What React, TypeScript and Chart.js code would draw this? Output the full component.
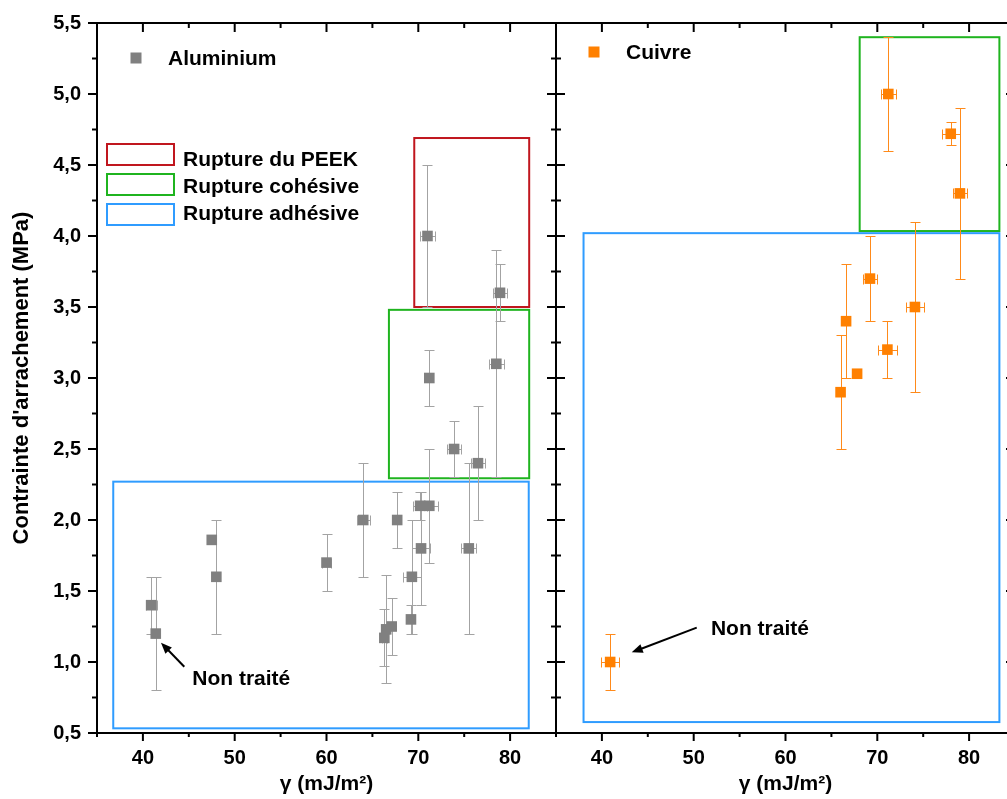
import React, { useEffect, useRef } from 'react';
import { Chart, registerables } from 'chart.js';

Chart.register(...registerables);

// ---------------- DATA ----------------
const seriesNames = ['Aluminium', 'Cuivre'];

// Aluminium (left panel)
const alX = [40.9, 41.4, 47.5, 48.0, 60.0, 64.0, 67.7, 69.2, 69.3, 70.3, 70.2, 71.2, 73.9, 76.5, 75.5, 66.3, 66.5, 67.1, 71.0, 78.9, 78.5, 71.2];
const alY = [1.4, 1.2, 1.86, 1.6, 1.7, 2.0, 2.0, 1.3, 1.6, 1.8, 2.1, 2.1, 2.5, 2.4, 1.8, 1.17, 1.23, 1.25, 4.0, 3.6, 3.1, 3.0];
const alXErr = [0.6, 0, 0, 0, 0.5, 0.7, 0, 0, 1.0, 1.0, 0.8, 1.0, 0.8, 0.8, 0.8, 0.3, 0.3, 0, 0.8, 0.8, 0.8, 0];
const alYErr = [0.2, 0.4, 0, 0.4, 0.2, 0.4, 0.2, 0.1, 0.4, 0.4, 0.1, 0.4, 0.2, 0.4, 0.6, 0.2, 0.38, 0.2, 0.5, 0.2, 0.8, 0.2];

// Cuivre (right panel)
const cuX = [71.2, 78.0, 79.0, 69.2, 74.1, 66.6, 71.1, 67.8, 66.0, 40.9];
const cuY = [5.0, 4.72, 4.3, 3.7, 3.5, 3.4, 3.2, 3.03, 2.9, 1.0];
const cuXErr = [0.8, 1.0, 0.8, 0.8, 1.0, 0, 1.0, 0, 0, 1.0];
const cuYErr = [0.4, 0.08, 0.6, 0.3, 0.6, 0.4, 0.2, 0, 0.4, 0.2];

// Axis ticks
const xTicks = [40, 50, 60, 70, 80];
const xMinor = [35, 45, 55, 65, 75, 85];
const yTicks = [0.5, 1.0, 1.5, 2.0, 2.5, 3.0, 3.5, 4.0, 4.5, 5.0, 5.5];
const yMinor = [0.75, 1.25, 1.75, 2.25, 2.75, 3.25, 3.75, 4.25, 4.75, 5.25];

// Failure zones: [xFrom, xTo, yFrom, yTo, zoneType]
const zoneNames = ['Rupture du PEEK', 'Rupture cohésive', 'Rupture adhésive'];
const alZones = [
  [69.56, 82.08, 3.5, 4.69, 0],
  [66.8, 82.08, 2.294, 3.48, 1],
  [36.77, 82.03, 0.533, 2.27, 2],
];
const cuZones = [
  [68.08, 83.3, 4.035, 5.4, 1],
  [38.0, 83.3, 0.577, 4.02, 2],
];

// "Non traité" notes: [textX, textY, headX, headY, tailX, tailY]
const noteText = 'Non traité';
const alNote = [45.38, 0.838, 41.97, 1.136, 44.51, 0.967];
const cuNote = [51.88, 1.19, 43.25, 1.068, 50.33, 1.242];

const xTitle = 'γ (mJ/m²)';
const yTitle = "Contrainte d'arrachement (MPa)";

// ---------------- STYLE ----------------
const FONT = "'Liberation Sans', Arial, Helvetica, sans-serif";
const alColor = '#808080';
const alErrColor = '#a3a3a3';
const cuColor = '#ff8000';
const cuErrColor = '#ff8a1a';
const zoneColors = ['#c0161e', '#1fb41f', '#2f9cff'];

const panelPlugin = {
  id: 'panelPlugin',
  beforeDatasetsDraw(chart: any) {
    const { ctx, chartArea: ca } = chart;
    const ys = chart.scales.y;
    const sx = [chart.scales.x, chart.scales.x2];
    ctx.save();
    ctx.beginPath();
    ctx.rect(ca.left, ca.top, ca.right - ca.left, ca.bottom - ca.top);
    ctx.clip();

    // zones
    ctx.lineWidth = 2;
    const drawZones = (s: any, zones: number[][]) => {
      for (const z of zones) {
        const [x0, x1, y0, y1, t] = z;
        const l = s.getPixelForValue(x0);
        const r = s.getPixelForValue(x1);
        const tp = ys.getPixelForValue(y1);
        const b = ys.getPixelForValue(y0);
        ctx.strokeStyle = zoneColors[t];
        ctx.strokeRect(l, tp, r - l, b - tp);
      }
    };
    drawZones(sx[0], alZones);
    drawZones(sx[1], cuZones);

    // error bars
    const drawErr = (s: any, X: number[], Y: number[], XE: number[], YE: number[], color: string) => {
      ctx.strokeStyle = color;
      ctx.lineWidth = 1;
      const cap = 5;
      for (let i = 0; i < X.length; i++) {
        const px = Math.round(s.getPixelForValue(X[i])) + 0.5;
        const py = Math.round(ys.getPixelForValue(Y[i])) + 0.5;
        ctx.beginPath();
        if (YE[i] > 0) {
          const t = Math.round(ys.getPixelForValue(Y[i] + YE[i])) + 0.5;
          const b = Math.round(ys.getPixelForValue(Y[i] - YE[i])) + 0.5;
          ctx.moveTo(px, t); ctx.lineTo(px, b);
          ctx.moveTo(px - cap, t); ctx.lineTo(px + cap, t);
          ctx.moveTo(px - cap, b); ctx.lineTo(px + cap, b);
        }
        if (XE[i] > 0) {
          const l = Math.round(s.getPixelForValue(X[i] - XE[i])) + 0.5;
          const r = Math.round(s.getPixelForValue(X[i] + XE[i])) + 0.5;
          ctx.moveTo(l, py); ctx.lineTo(r, py);
          ctx.moveTo(l, py - cap); ctx.lineTo(l, py + cap);
          ctx.moveTo(r, py - cap); ctx.lineTo(r, py + cap);
        }
        ctx.stroke();
      }
    };
    drawErr(sx[0], alX, alY, alXErr, alYErr, alErrColor);
    drawErr(sx[1], cuX, cuY, cuXErr, cuYErr, cuErrColor);
    ctx.restore();
  },
  afterDraw(chart: any) {
    const { ctx, chartArea: ca } = chart;
    const ys = chart.scales.y;
    const sx = [chart.scales.x, chart.scales.x2];
    const mid = chart.scales.x.right;
    ctx.save();
    ctx.strokeStyle = '#000';
    ctx.fillStyle = '#000';
    ctx.lineWidth = 2;
    const seg = (x0: number, y0: number, x1: number, y1: number) => {
      ctx.beginPath(); ctx.moveTo(x0, y0); ctx.lineTo(x1, y1); ctx.stroke();
    };
    // frame
    seg(ca.left - 1, ca.top, ca.right + 1, ca.top);
    seg(ca.left - 1, ca.bottom, ca.right + 1, ca.bottom);
    seg(ca.left, ca.top, ca.left, ca.bottom);
    seg(mid, ca.top, mid, ca.bottom);
    seg(ca.right, ca.top, ca.right, ca.bottom);
    // x ticks
    for (const s of sx) {
      for (const v of xTicks) {
        const p = s.getPixelForValue(v);
        seg(p, ca.top, p, ca.top + 9);
        seg(p, ca.bottom, p, ca.bottom + 8);
      }
      for (const v of xMinor) {
        const p = s.getPixelForValue(v);
        seg(p, ca.top, p, ca.top + 5);
        seg(p, ca.bottom, p, ca.bottom + 4);
      }
    }
    // y ticks
    for (const v of yTicks) {
      const p = ys.getPixelForValue(v);
      seg(ca.left - 9, p, ca.left, p);
      seg(mid - 9, p, mid + 9, p);
      seg(ca.right - 9, p, ca.right, p);
    }
    for (const v of yMinor) {
      const p = ys.getPixelForValue(v);
      seg(ca.left - 5, p, ca.left, p);
      seg(mid - 5, p, mid + 5, p);
      seg(ca.right - 5, p, ca.right, p);
    }

    // series legends
    ctx.font = `bold 21px ${FONT}`;
    ctx.textAlign = 'left';
    ctx.textBaseline = 'alphabetic';
    ctx.fillStyle = alColor;
    ctx.fillRect(ca.left + 39 - 5.5, ca.top + 35 - 5.5, 11, 11);
    ctx.fillStyle = '#000';
    ctx.fillText(seriesNames[0], ca.left + 71, ca.top + 42);
    ctx.fillStyle = cuColor;
    ctx.fillRect(mid + 38 - 5.5, ca.top + 29 - 5.5, 11, 11);
    ctx.fillStyle = '#000';
    ctx.fillText(seriesNames[1], mid + 70, ca.top + 36);

    // zone legend
    const boxTops = [121, 151, 181];
    const textBase = [143, 170, 197];
    for (let i = 0; i < zoneNames.length; i++) {
      ctx.strokeStyle = zoneColors[i];
      ctx.lineWidth = 2;
      ctx.strokeRect(ca.left + 10, ca.top + boxTops[i], 67, 21);
      ctx.fillStyle = '#000';
      ctx.fillText(zoneNames[i], ca.left + 86, ca.top + textBase[i]);
    }

    // notes with arrows
    const note = (s: any, n: number[]) => {
      const [txv, tyv, hxv, hyv, axv, ayv] = n;
      const hx = s.getPixelForValue(hxv), hy = ys.getPixelForValue(hyv);
      const tx = s.getPixelForValue(axv), ty = ys.getPixelForValue(ayv);
      const ang = Math.atan2(hy - ty, hx - tx);
      const L = 11, W = 4.5;
      const c = Math.cos(ang), sn = Math.sin(ang);
      ctx.strokeStyle = '#000';
      ctx.fillStyle = '#000';
      ctx.lineWidth = 2;
      seg(tx, ty, hx - c * L * 0.8, hy - sn * L * 0.8);
      ctx.beginPath();
      ctx.moveTo(hx, hy);
      ctx.lineTo(hx - L * c + W * sn, hy - L * sn - W * c);
      ctx.lineTo(hx - L * c - W * sn, hy - L * sn + W * c);
      ctx.closePath();
      ctx.fill();
      ctx.fillText(noteText, s.getPixelForValue(txv), ys.getPixelForValue(tyv));
    };
    note(sx[0], alNote);
    note(sx[1], cuNote);
    ctx.restore();
  },
};

const tickFont = { family: FONT, size: 20, weight: 'bold' as const };

const xAxis = (extra: any) => ({
  type: 'linear',
  position: 'bottom',
  stack: 'xs',
  stackWeight: 1,
  min: 35,
  max: 85,
  grid: { display: false, drawTicks: false },
  border: { display: false },
  afterBuildTicks: (s: any) => { s.ticks = xTicks.map((v) => ({ value: v })); },
  afterFit: (s: any) => { s.height = 66; s.paddingLeft = 0; s.paddingRight = 0; },
  ticks: { font: tickFont, color: '#000', padding: 13, autoSkip: false, maxRotation: 0, callback: (v: any) => String(v) },
  title: { display: true, text: xTitle, color: '#000', font: { family: FONT, size: 21, weight: 'bold' }, padding: { top: 0, bottom: 2 } },
  ...extra,
});

export default function App() {
  const ref = useRef<HTMLCanvasElement>(null);
  useEffect(() => {
    if (!ref.current) return;
    const chart = new Chart(ref.current, {
      type: 'scatter',
      data: {
        datasets: [
          {
            label: seriesNames[0],
            data: alX.map((x, i) => ({ x, y: alY[i] })),
            xAxisID: 'x',
            yAxisID: 'y',
            pointStyle: 'rect',
            pointRadius: 7.5,
            pointBorderWidth: 0,
            backgroundColor: alColor,
            borderColor: alColor,
          },
          {
            label: seriesNames[1],
            data: cuX.map((x, i) => ({ x, y: cuY[i] })),
            xAxisID: 'x2',
            yAxisID: 'y',
            pointStyle: 'rect',
            pointRadius: 7.5,
            pointBorderWidth: 0,
            backgroundColor: cuColor,
            borderColor: cuColor,
          },
        ],
      },
      options: {
        responsive: false,
        animation: false,
        events: [],
        layout: { autoPadding: false, padding: { top: 23, right: 15, left: 0, bottom: 0 } },
        plugins: { legend: { display: false }, tooltip: { enabled: false } },
        scales: {
          x: xAxis({ axis: 'x' }),
          x2: xAxis({ axis: 'x' }),
          y: {
            type: 'linear',
            position: 'left',
            min: 0.5,
            max: 5.5,
            grid: { display: false, drawTicks: false },
            border: { display: false },
            afterBuildTicks: (s: any) => { s.ticks = yTicks.map((v) => ({ value: v })); },
            afterFit: (s: any) => { s.width = 97; s.paddingTop = 0; s.paddingBottom = 0; },
            ticks: {
              font: tickFont,
              color: '#000',
              padding: 16,
              autoSkip: false,
              callback: (v: any) => Number(v).toFixed(1).replace('.', ','),
            },
            title: { display: true, text: yTitle, color: '#000', font: { family: FONT, size: 22, weight: 'bold' }, padding: { top: 9, bottom: 0 } },
          },
        },
      } as any,
      plugins: [panelPlugin],
    } as any);
    return () => chart.destroy();
  }, []);
  return (
    <div style={{ position: 'absolute', left: 0, top: 0, width: 1007, height: 799, overflow: 'hidden', background: '#fff' }}>
      <canvas ref={ref} width={1030} height={799} style={{ display: 'block', width: 1030, height: 799 }} />
    </div>
  );
}
